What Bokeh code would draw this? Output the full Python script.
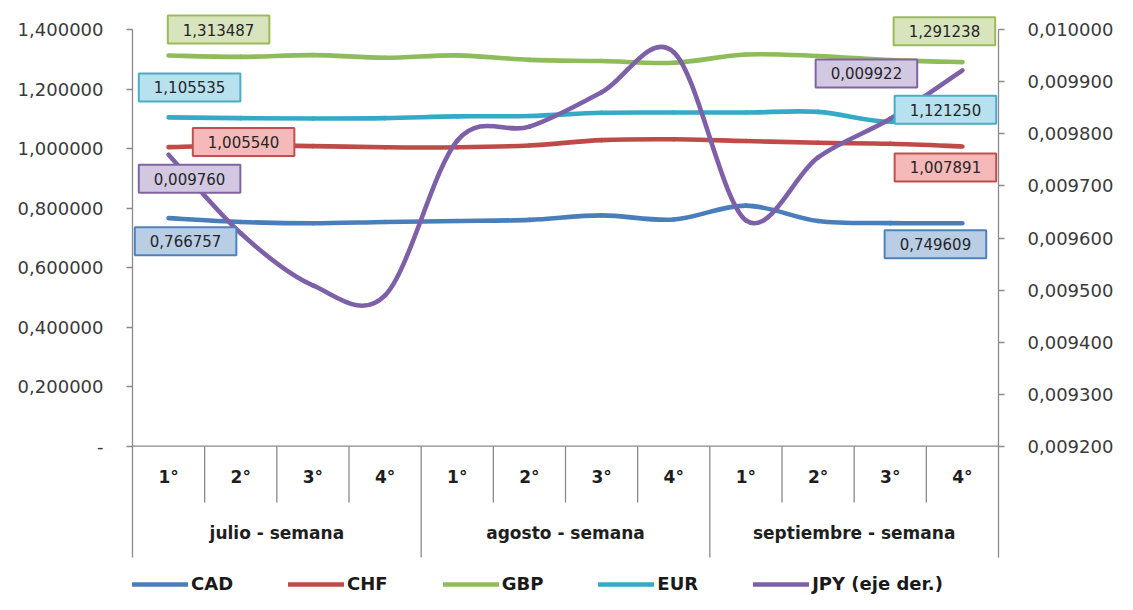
import numpy as np
from bokeh.plotting import figure
from bokeh.models import (Range1d, LinearAxis, FixedTicker, Label, Legend,
                          LegendItem, ColumnDataSource)
from bokeh.core.properties import value
from bokeh.embed import file_html
from bokeh.resources import INLINE

# ---------------- data ----------------
weeks = ["1°", "2°", "3°", "4°"] * 3
months = ["julio - semana", "agosto - semana", "septiembre - semana"]

CAD = [0.766757, 0.754, 0.7495, 0.754, 0.757, 0.761, 0.776, 0.762, 0.809, 0.757, 0.750, 0.749609]
CHF = [1.005540, 1.011, 1.009, 1.005, 1.005, 1.011, 1.029, 1.032, 1.026, 1.020, 1.017, 1.007891]
GBP = [1.313487, 1.309, 1.315, 1.306, 1.314, 1.299, 1.295, 1.289, 1.317, 1.312, 1.298, 1.291238]
EUR = [1.105535, 1.103, 1.102, 1.103, 1.109, 1.110, 1.121, 1.122, 1.122, 1.124, 1.091, 1.121250]
JPY = [0.009760, 0.009609, 0.009509, 0.009490, 0.009787, 0.009814, 0.009880, 0.009957,
       0.009634, 0.009755, 0.009829, 0.009922]

left_ticks = [0.0, 0.2, 0.4, 0.6, 0.8, 1.0, 1.2, 1.4]
left_tick_labels = ["-", "0,200000", "0,400000", "0,600000", "0,800000",
                    "1,000000", "1,200000", "1,400000"]
right_ticks = [0.0092, 0.0093, 0.0094, 0.0095, 0.0096, 0.0097, 0.0098, 0.0099, 0.0100]
right_tick_labels = ["0,009200", "0,009300", "0,009400", "0,009500", "0,009600",
                     "0,009700", "0,009800", "0,009900", "0,010000"]

series_names = ["CAD", "CHF", "GBP", "EUR", "JPY (eje der.)"]
series_values = [CAD, CHF, GBP, EUR, JPY]
series_right = [False, False, False, False, True]

# ---------------- styles ----------------
line_colors = ["#4A7EBB", "#BE4B48", "#8FBC5A", "#35AAC6", "#7D60A8"]
box_fills = ["#B9CDE5", "#F4B9B8", "#D7E4BD", "#B7E1EE", "#D3C8E2"]
box_borders = ["#4F81BD", "#C0504D", "#9BBB59", "#4BACC6", "#8064A2"]
# (x_offset, y_offset) in screen px for first / last value labels
first_offsets = [(17, -23), (75, 5), (50, 26), (21, 30), (21, -24)]
last_offsets = [(-27, -21), (-17, -21), (-18, 31), (-17, 3), (-96, -3)]

AX_COL = "#8A8A8A"
TXT_COL = "#3A3A3A"
FONT = "DejaVu Sans"

W, H = 1117, 594
BORDER_L, BORDER_R = 132, 119
PX_TOP, PX_ZERO = 29.3, 445.7           # pixel rows of 1.4 and 0
PX_INNER_SEP, PX_GROUP_SEP = 502, 557   # bottom rows of category separators

ppu = (PX_ZERO - PX_TOP) / 1.4
rppu = (PX_ZERO - PX_TOP) / 0.0008

p = figure(width=W, height=H, output_backend="svg", toolbar_location=None,
           x_axis_location=None, y_axis_location=None,
           x_range=Range1d(0, 12),
           y_range=Range1d(-(H - PX_ZERO) / ppu, 1.4 + PX_TOP / ppu),
           min_border_left=BORDER_L, min_border_right=BORDER_R,
           min_border_top=0, min_border_bottom=0)
p.extra_y_ranges = {"jpy": Range1d(0.0092 - (H - PX_ZERO) / rppu, 0.0100 + PX_TOP / rppu)}
p.outline_line_color = None
p.grid.visible = False
p.background_fill_color = "white"
p.border_fill_color = "white"

# ---------------- axes ----------------
def style_axis(ax):
    ax.axis_line_color = AX_COL
    ax.axis_line_width = 1.3
    ax.major_tick_line_color = AX_COL
    ax.major_tick_line_width = 1.3
    ax.major_tick_out = 6
    ax.major_tick_in = 0
    ax.minor_tick_line_color = None
    ax.major_label_text_font = FONT
    ax.major_label_text_font_size = "18px"
    ax.major_label_text_color = TXT_COL
    ax.major_label_standoff = 23

left_axis = LinearAxis(ticker=FixedTicker(ticks=left_ticks),
                       bounds=(-(PX_GROUP_SEP - PX_ZERO) / ppu, 1.4),
                       major_label_overrides=dict(zip(left_ticks, left_tick_labels)))
style_axis(left_axis)
p.add_layout(left_axis, "left")

right_axis = LinearAxis(y_range_name="jpy", ticker=FixedTicker(ticks=right_ticks),
                        bounds=(0.0092 - (PX_GROUP_SEP - PX_ZERO) / rppu, 0.0100),
                        major_label_overrides=dict(zip(right_ticks, right_tick_labels)))
style_axis(right_axis)
p.add_layout(right_axis, "right")

# category axis (drawn in the frame below zero)
n = len(weeks)
p.segment(x0=[0], y0=[0], x1=[n], y1=[0], line_color=AX_COL, line_width=1.3)
bounds_x = np.arange(1, n)
is_group = (bounds_x % 4 == 0)
sep_bottom = np.where(is_group, -(PX_GROUP_SEP - PX_ZERO) / ppu, -(PX_INNER_SEP - PX_ZERO) / ppu)
p.segment(x0=bounds_x, y0=np.zeros(len(bounds_x)), x1=bounds_x, y1=sep_bottom,
          line_color=AX_COL, line_width=1.3)

xc = np.arange(n) + 0.5
p.text(x=xc, y=np.zeros(n), text=weeks, y_offset=31, text_align="center",
       text_baseline="middle", text_font=value(FONT), text_font_style="bold",
       text_font_size="17px", text_color="#1E1E1E")
gx = np.arange(len(months)) * 4 + 2
p.text(x=gx, y=np.zeros(len(months)), text=months, y_offset=87, text_align="center",
       text_baseline="middle", text_font=value(FONT), text_font_style="bold",
       text_font_size="17px", text_color="#1E1E1E")

# ---------------- smooth lines ----------------
def bezier_source(xs, ys):
    P = np.column_stack([xs, ys]).astype(float)
    ext = np.vstack([P[0], P, P[-1]])
    pm, p0, p1, pp = ext[0:-3], ext[1:-2], ext[2:-1], ext[3:]
    c0 = p0 + (p1 - pm) / 6.0
    c1 = p1 - (pp - p0) / 6.0
    return ColumnDataSource(dict(x0=p0[:, 0], y0=p0[:, 1], x1=p1[:, 0], y1=p1[:, 1],
                                 cx0=c0[:, 0], cy0=c0[:, 1], cx1=c1[:, 0], cy1=c1[:, 1]))

items = []
for name, vals, right, col in zip(series_names, series_values, series_right, line_colors):
    src = bezier_source(xc, vals)
    kw = dict(y_range_name="jpy") if right else {}
    r = p.bezier(x0="x0", y0="y0", x1="x1", y1="y1", cx0="cx0", cy0="cy0",
                 cx1="cx1", cy1="cy1", source=src, line_color=col, line_width=4.6,
                 line_cap="round", **kw)
    items.append(LegendItem(label=name, renderers=[r]))

# ---------------- value labels ----------------
def fmt(v):
    return f"{v:.6f}".replace(".", ",")

for vals, right, fill, border, fo, lo in zip(series_values, series_right, box_fills,
                                              box_borders, first_offsets, last_offsets):
    for idx, off in ((0, fo), (n - 1, lo)):
        kw = dict(y_range_name="jpy") if right else {}
        lab = Label(x=xc[idx], y=vals[idx], text=fmt(vals[idx]),
                    x_offset=off[0], y_offset=off[1],
                    text_align="center", text_baseline="middle",
                    text_font=FONT, text_font_size="15px", text_color="#262626",
                    background_fill_color=fill, background_fill_alpha=1.0,
                    border_line_color=border, border_line_width=2,
                    padding=dict(left=15, right=15, top=8, bottom=8), **kw)
        p.add_layout(lab)

# ---------------- legend ----------------
legend = Legend(items=items, orientation="horizontal", location=(0, 0),
                glyph_width=56, glyph_height=12, label_height=12, label_standoff=3,
                spacing=55, padding=0, margin=0, border_line_color=None,
                background_fill_alpha=0, label_text_font=FONT,
                label_text_font_style="bold", label_text_font_size="18px",
                label_text_color="#1A1A1A")
p.add_layout(legend, "center")

open("out.html", "w").write(file_html(p, INLINE))
